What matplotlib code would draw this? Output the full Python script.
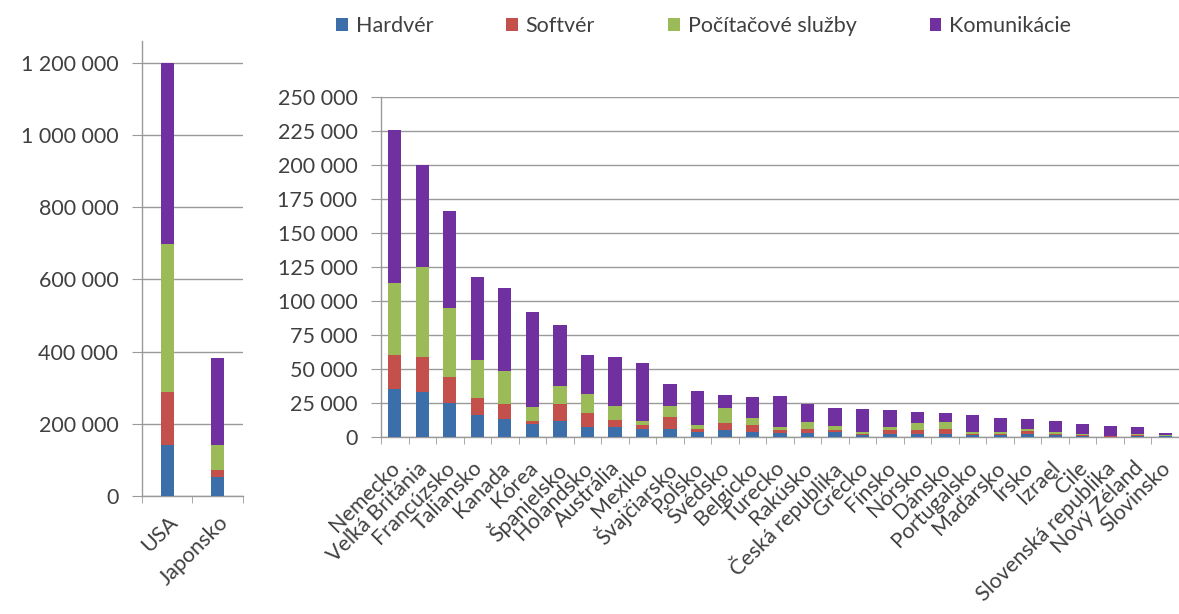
"""Stacked bars: ICT sector by country (Hardvér / Softvér / Počítačové služby / Komunikácie)."""
import matplotlib

matplotlib.use("Agg")
import matplotlib.pyplot as plt
import numpy as np
from matplotlib.patches import Patch
from matplotlib.ticker import FuncFormatter
from matplotlib.transforms import offset_copy

plt.rcParams["font.family"] = ["Lato", "DejaVu Sans"]

series = ["Hardvér", "Softvér", "Počítačové služby", "Komunikácie"]
colors = ["#3C6EAA", "#C4504C", "#9BBB59", "#7030A0"]

big_countries = ["USA", "Japonsko"]
big_hw = [141000, 53500]
big_sw = [148000, 18500]
big_cs = [409000, 69000]
big_com = [502000, 240000]

countries = [
    "Nemecko", "Veľká Británia", "Francúzsko", "Taliansko", "Kanada", "Kórea",
    "Španielsko", "Holandsko", "Austrália", "Mexiko", "Švajčiarsko", "Poľsko",
    "Švédsko", "Belgicko", "Turecko", "Rakúsko", "Česká republika", "Grécko",
    "Fínsko", "Nórsko", "Dánsko", "Portugalsko", "Maďarsko", "Írsko", "Izrael",
    "Čile", "Slovenská republika", "Nový Zéland", "Slovinsko",
]
hw = [35000, 33000, 25000, 16500, 13000, 9500, 12000, 7000, 7500, 6000, 6000, 4000,
      5000, 3500, 3000, 3000, 3500, 1500, 2500, 2500, 2500, 1500, 1500, 2000, 1500,
      1000, 300, 1000, 500]
sw = [25500, 26000, 19000, 12000, 11500, 2500, 12000, 10500, 5000, 2500, 8500, 2000,
      5000, 5000, 2000, 3000, 2000, 1000, 2500, 3000, 3500, 1000, 1000, 2500, 1000,
      500, 100, 500, 300]
cs = [53000, 66000, 51000, 28000, 24000, 10000, 13500, 14000, 10000, 3500, 8500, 3000,
      11000, 5500, 2000, 5000, 2500, 1000, 2000, 5000, 5000, 1500, 1000, 1500, 1500,
      1000, 100, 1000, 300]
com = [112000, 75000, 71000, 61000, 61000, 70000, 45000, 28500, 36500, 42500, 16000, 25000,
       10000, 15500, 23000, 13500, 13000, 17000, 13000, 8000, 7000, 12000, 10500, 7000, 8000,
       7000, 7300, 4500, 1500]

text_col = "#404040"
grid_col = "#9A9A9A"
fsize = 15.5


def space_fmt(v, _pos):
    return f"{int(v):,}".replace(",", " ")


def stacked(ax, labels, data, width, dx, dy):
    x = np.arange(len(labels))
    bottom = np.zeros(len(labels))
    for vals, col in zip(data, colors):
        ax.bar(x, vals, width, bottom=bottom, color=col, zorder=3)
        bottom += np.asarray(vals, dtype=float)
    ax.set_xlim(-0.5, len(labels) - 0.5)
    ax.set_xticks(np.arange(len(labels) + 1) - 0.5, minor=True)
    ax.set_xticks(x)
    ax.set_xticklabels([])
    # rotated category labels, offset down like the Excel original
    trans = offset_copy(ax.get_xaxis_transform(), fig=ax.figure, x=dx, y=-dy, units="dots")
    for xi, lab in zip(x, labels):
        ax.text(xi, 0, lab, transform=trans, rotation=45, ha="right", va="top",
                rotation_mode="anchor", fontsize=fsize, color=text_col, clip_on=False)
    ax.tick_params(axis="x", which="major", length=0)
    ax.tick_params(axis="x", which="minor", length=5, color=grid_col, direction="out")
    ax.tick_params(axis="y", length=7, color=grid_col, labelsize=fsize,
                   labelcolor=text_col, pad=10)
    ax.yaxis.set_major_formatter(FuncFormatter(space_fmt))
    ax.grid(axis="y", color=grid_col, linewidth=1.0, zorder=0)
    for side in ("top", "right"):
        ax.spines[side].set_visible(False)
    for side in ("left", "bottom"):
        ax.spines[side].set_color(grid_col)
        ax.spines[side].set_linewidth(1.0)


fig = plt.figure(figsize=(11.79, 6.14), dpi=100)

ax1 = fig.add_axes([0.1204, 0.1922, 0.0857, 0.741])
stacked(ax1, big_countries, [big_hw, big_sw, big_cs, big_com], 0.26, 0, 16)
ax1.set_ylim(0, 1260000)
ax1.set_yticks(np.arange(0, 1200001, 200000))

ax2 = fig.add_axes([0.3232, 0.2883, 0.6768, 0.5537])
stacked(ax2, countries, [hw, sw, cs, com], 0.48, -5, 21)
ax2.set_ylim(0, 250000)
ax2.set_yticks(np.arange(0, 250001, 25000))

handles = [Patch(facecolor=c, edgecolor="none") for c in colors]
fig.legend(handles, series, loc="center left", bbox_to_anchor=(0.276, 0.958), ncol=4,
           frameon=False, fontsize=fsize, handlelength=0.55, handleheight=0.55,
           handletextpad=0.35, columnspacing=3.4, borderpad=0, labelcolor=text_col)

fig.savefig("out.png", dpi=100)
